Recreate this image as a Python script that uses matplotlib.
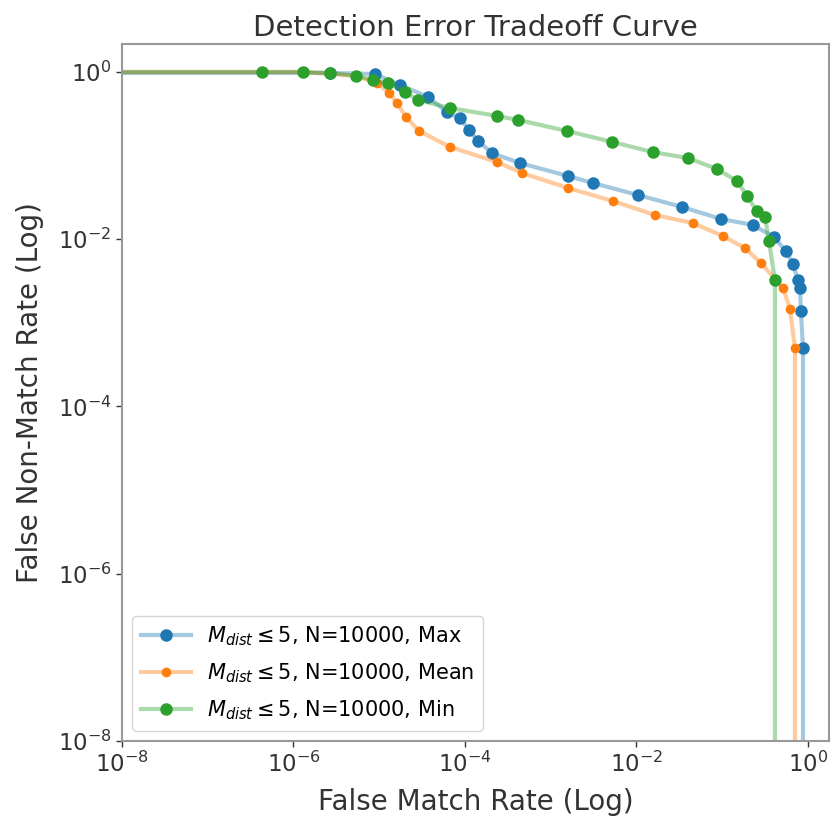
import matplotlib.pyplot as plt
from matplotlib.colors import to_rgba
from matplotlib.ticker import NullLocator

# FMR / FNMR pairs (0 at the ends -> clipped to the axes edge)
fmr_max = [0, 2.67e-6, 8.91e-6, 1.75e-5, 3.71e-5, 6.17e-5, 8.75e-5, 1.11e-4, 1.42e-4,
           2.07e-4, 4.38e-4, 1.59e-3, 3.11e-3, 1.04e-2, 3.40e-2, 9.66e-2, 0.229,
           0.401, 0.553, 0.668, 0.764, 0.807, 0.828, 0.875, 0.875]
fnmr_max = [1.0, 0.973, 0.946, 0.699, 0.502, 0.332, 0.282, 0.202, 0.150,
            0.107, 0.0815, 0.0570, 0.0470, 0.0338, 0.0243, 0.0175, 0.0148,
            0.0106, 0.00722, 0.00505, 0.00325, 0.00261, 0.00138, 0.000500, 0]

fmr_mean = [0, 1.29e-6, 5.36e-6, 9.42e-6, 1.30e-5, 1.61e-5, 2.05e-5, 2.91e-5, 6.68e-5,
            2.36e-4, 4.62e-4, 1.59e-3, 5.32e-3, 1.64e-2, 4.56e-2, 0.102, 0.184,
            0.283, 0.511, 0.617, 0.705, 0.705]
fnmr_mean = [1.0, 1.0, 0.896, 0.739, 0.561, 0.426, 0.290, 0.197, 0.127,
             0.0838, 0.0619, 0.0410, 0.0286, 0.0195, 0.0156, 0.0109, 0.00785,
             0.00519, 0.00261, 0.00146, 0.000500, 0]

fmr_min = [0, 4.30e-7, 1.29e-6, 2.67e-6, 5.36e-6, 8.45e-6, 1.26e-5, 2.0e-5, 2.83e-5,
           6.68e-5, 2.36e-4, 4.15e-4, 1.55e-3, 5.18e-3, 1.56e-2, 3.99e-2, 8.69e-2,
           0.149, 0.195, 0.254, 0.316, 0.351, 0.412, 0.412]
fnmr_min = [1.0, 1.0, 1.0, 0.973, 0.896, 0.802, 0.739, 0.576, 0.463,
            0.371, 0.298, 0.267, 0.197, 0.146, 0.110, 0.0936, 0.0691,
            0.0497, 0.0329, 0.0217, 0.0184, 0.0095, 0.00325, 0]

labels = [r"$M_{dist} \leq 5$, N=10000, Max",
          r"$M_{dist} \leq 5$, N=10000, Mean",
          r"$M_{dist} \leq 5$, N=10000, Min"]
colors = ["#1f77b4", "#ff7f0e", "#2ca02c"]
msizes = [8, 6, 8]
ticks = [1e-8, 1e-6, 1e-4, 1e-2, 1]

fig = plt.figure(figsize=(8.32, 8.17), dpi=100)
ax = fig.add_axes([122 / 832, 76 / 817, 707 / 832, 697 / 817])

series = [(fmr_max, fnmr_max), (fmr_mean, fnmr_mean), (fmr_min, fnmr_min)]
for (x, y), lab, c, ms in zip(series, labels, colors, msizes):
    # pale line, solid markers
    ax.plot(x, y, "-o", color=to_rgba(c, 0.4), lw=3, ms=ms,
            mfc=c, mec=c, label=lab)

ax.set_xscale("log")
ax.set_yscale("log")
ax.set_xlim(1e-8, 1.76)
ax.set_ylim(1e-8, 2.16)
ax.set_xticks(ticks)
ax.set_yticks(ticks)
ax.xaxis.set_minor_locator(NullLocator())
ax.yaxis.set_minor_locator(NullLocator())
ax.tick_params(labelsize=16.5, colors="0.2", width=1, length=4)
for s in ax.spines.values():
    s.set_color("0.6")
    s.set_linewidth(1.5)

ax.set_title("Detection Error Tradeoff Curve", fontsize=21, color="0.2")
ax.set_xlabel("False Match Rate (Log)", fontsize=20, color="0.2", labelpad=8)
ax.set_ylabel("False Non-Match Rate (Log)", fontsize=20, color="0.2", labelpad=10)
ax.legend(loc="lower left", fontsize=15, handlelength=2.4, labelspacing=0.65)

fig.savefig("out.png", dpi=100)
